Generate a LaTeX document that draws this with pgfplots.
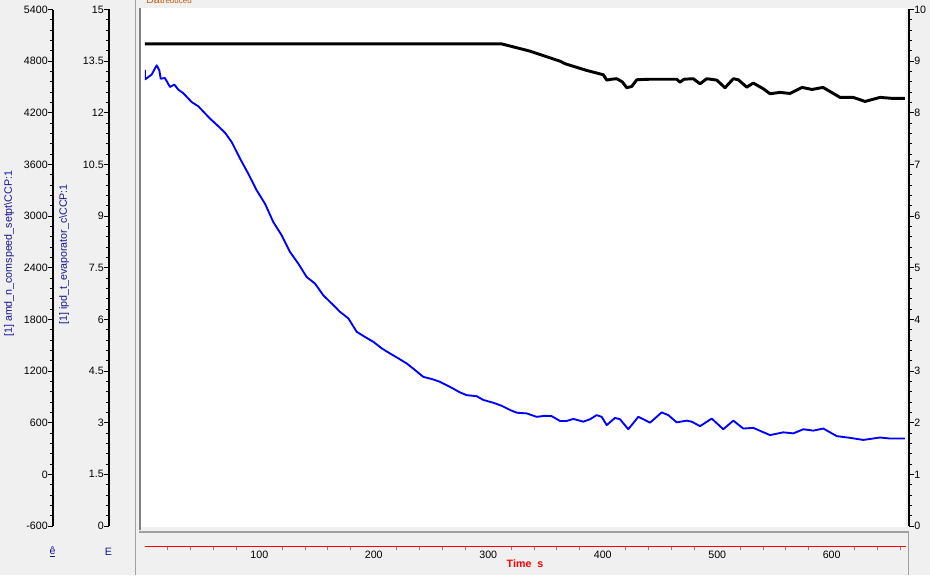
\documentclass[border=0pt]{standalone}
\usepackage{pgfplots}
\pgfplotsset{compat=1.18}
\usepackage{fontspec}
\setmainfont{Liberation Sans}

\definecolor{panel}{RGB}{240,240,240}
\definecolor{sepgray}{RGB}{160,160,160}
\definecolor{labblue}{RGB}{20,20,150}
\definecolor{datorange}{RGB}{200,90,20}

% 1 px of the reference = 0.75pt
\pgfplotsset{
  scaleax/.style={
    scale only axis, anchor=south west,
    width=0.75pt, height=387.375pt,
    xmin=0, xmax=1, axis x line=none,
    tick align=outside,
    major tick length=3.75pt, minor tick length=2.25pt,
    tick style={black, line width=0.75pt},
    y axis line style={-, black, line width=1.2pt},
    yticklabel style={inner sep=0pt},
    minor y tick num=4,
  },
  dataax/.style={
    scale only axis, anchor=south west,
    width=570.975pt, height=387.375pt,
    xmin=0, xmax=665, hide axis,
  },
}

\begin{document}
\fontsize{8}{9.6}\selectfont
\begin{tikzpicture}
\useasboundingbox (0,0) rectangle (697.5pt,431.25pt);
\begin{scope}[x=0.75pt, y=0.75pt]
\fill[panel] (0,0) rectangle (930,575);
\fill[white] (141,48.5) rectangle (906,566.5);
\draw[sepgray, line width=0.75pt] (135.5,0) -- (135.5,575);
\draw[gray, line width=1.5pt] (140,45) -- (140,566.5);
\draw[sepgray, line width=1.5pt] (139,43) -- (908.5,43);
\draw[sepgray, line width=0.75pt] (908.5,0) -- (908.5,42);
\node[anchor=base west, text=datorange, inner sep=0pt] at (146,571)
  {Dat{\fontsize{6}{6}\selectfont reduced}};
\node[rotate=90, anchor=west, text=labblue, inner sep=0pt] at (9,238)
  {[1] amd\_n\_comspeed\_setpt\textbackslash CCP:1};
\node[rotate=90, anchor=west, text=labblue, inner sep=0pt] at (64,250)
  {[1] ipd\_t\_evaporator\_c\textbackslash CCP:1};
\node[text=labblue, inner sep=0pt] at (52.5,23) {\underline{ê}};
\node[text=labblue, inner sep=0pt] at (108.5,23) {E};
\node[text=red, font=\bfseries, inner sep=0pt] at (525,11) {Time\ \ s};
\end{scope}

% left scale 1
\begin{axis}[scaleax, at={(39.75pt,36.75pt)}, axis y line*=left,
  ymin=-600, ymax=5400, ytick={-600,0,600,1200,1800,2400,3000,3600,4200,4800,5400},
  yticklabels={-600,0,600,1200,1800,2400,3000,3600,4200,4800,5400}]
\end{axis}
% left scale 2
\begin{axis}[scaleax, at={(81.75pt,36.75pt)}, axis y line*=left,
  ymin=0, ymax=15, ytick={0,1.5,3,4.5,6,7.5,9,10.5,12,13.5,15},
  yticklabels={0,1.5,3,4.5,6,7.5,9,10.5,12,13.5,15}]
\end{axis}
% right scale
\begin{axis}[scaleax, at={(681pt,36.75pt)}, axis y line*=right,
  ymin=0, ymax=10, ytick={0,1,2,3,4,5,6,7,8,9,10},
  yticklabels={0,1,2,3,4,5,6,7,8,9,10}]
\end{axis}

% compressor speed
\begin{axis}[dataax, at={(108.6pt,36.75pt)}, ymin=-600, ymax=5400]
\addplot[black, line width=2.2pt, line join=round] coordinates {
 (0,5000) (311.8,5000) (336.5,4916) (362.7,4800) (367.1,4770) (386.0,4692)
 (400.5,4642) (403.5,4580) (407.8,4590) (412.2,4596) (417,4560) (421.0,4491)
 (425.3,4506) (429.7,4584) (441.3,4590) (464.6,4590) (467.5,4556) (471,4590)
 (479.1,4596) (485.0,4537) (490.8,4596) (499.6,4580) (506.8,4491) (514.1,4596)
 (518.4,4584) (525.8,4498) (531.5,4545) (540.3,4479) (546.1,4421) (554.8,4437)
 (563.6,4425) (574.1,4495) (582.8,4471) (592.4,4495) (607.3,4379) (618.7,4379)
 (629.2,4332) (642.2,4379) (653.5,4367) (664,4367)
};
\end{axis}
% evaporator temperature
\begin{axis}[dataax, at={(108.6pt,36.75pt)}, ymin=0, ymax=15]
\addplot[blue, line width=1.4pt, line join=round] coordinates {
 (0,13.25) (0.3,12.97) (3.1,13.04) (6.0,13.11) (10.4,13.38) (12.7,13.23)
 (13.9,12.99) (17.6,13.01) (22.0,12.75) (25.8,12.82) (29.3,12.67) (33.6,12.57)
 (41.0,12.31) (46.7,12.19) (57.0,11.83) (64.2,11.61) (70.1,11.42) (75.9,11.15)
 (83.2,10.67) (90.4,10.23) (97.7,9.75) (105.0,9.36) (112.2,8.83) (119.6,8.44)
 (126.8,7.96) (134.1,7.62) (141.4,7.23) (148.7,7.04) (155.9,6.70) (163.3,6.46)
 (170.5,6.22) (177.8,6.03) (185.1,5.64) (192.3,5.49) (199.6,5.35) (206.9,5.16)
 (214.2,5.01) (221.4,4.87) (228.8,4.72) (236.0,4.53) (243.3,4.33) (250.6,4.27)
 (257.6,4.19) (266.6,4.04) (275.3,3.88) (281.2,3.80) (289.9,3.77) (295.7,3.66)
 (304.4,3.58) (311.8,3.49) (319.0,3.37) (324.9,3.29) (333.6,3.27) (342.3,3.17)
 (349.6,3.20) (355.4,3.19) (362.7,3.05) (368.5,3.05) (374.3,3.11) (383.0,3.03)
 (388.9,3.10) (394.7,3.22) (399.1,3.17) (403.5,2.93) (410.7,3.14) (415.1,3.10)
 (422.3,2.81) (431.1,3.17) (435.5,3.10) (441.3,3.00) (451.5,3.30) (457.3,3.22)
 (464.6,3.01) (473.4,3.06) (477.7,3.03) (485.0,2.90) (495.2,3.12) (505.3,2.81)
 (514.1,3.06) (522.8,2.83) (531.5,2.85) (546.1,2.64) (557.7,2.72) (566.5,2.69)
 (575.2,2.81) (583.9,2.77) (592.7,2.83) (604.4,2.61) (616.0,2.56) (627.6,2.50)
 (642.2,2.57) (650.9,2.54) (664.0,2.54)
};
\end{axis}

% time axis
\begin{axis}[scale only axis, anchor=south west, at={(108.6pt,21.225pt)},
  width=570.975pt, height=1pt, xmin=0, xmax=665, ymin=0, ymax=1,
  axis y line=none, axis x line*=bottom,
  x axis line style={-, red, line width=1.1pt},
  xtick={100,200,300,400,500,600}, xticklabels={100,200,300,400,500,600},
  minor xtick={20,40,60,80,120,140,160,180,220,240,260,280,320,340,360,380,
    420,440,460,480,520,540,560,580,620,640,660},
  tick align=outside, major tick length=0pt, minor tick length=2.25pt,
  minor tick style={gray, line width=0.75pt},
  xticklabel style={inner sep=0pt, yshift=-2.85pt}]
\end{axis}
\end{tikzpicture}
\end{document}
